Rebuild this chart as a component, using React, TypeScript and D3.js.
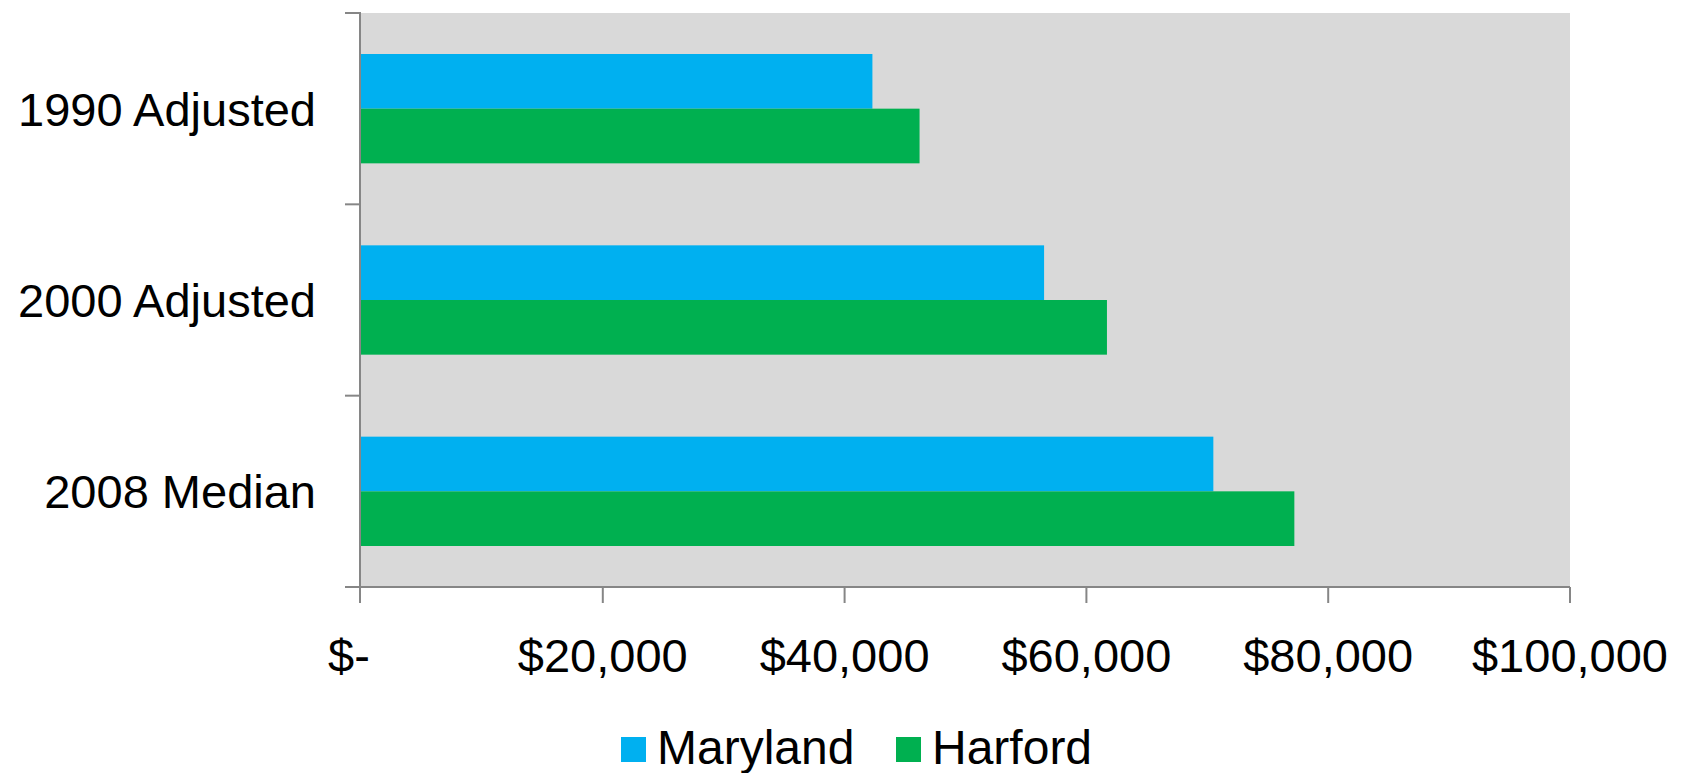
import React from "react";
import * as d3 from "d3";

const categories = ["1990 Adjusted", "2000 Adjusted", "2008 Median"];
const seriesNames = ["Maryland", "Harford"];
const marylandValues = [42300, 56500, 70500];
const harfordValues = [46200, 61700, 77200];
const xTicks = [0, 20000, 40000, 60000, 80000, 100000];
const colors = ["#00b0f0", "#00b050"];

const W = 1684;
const H = 773;
const FONT = "'Liberation Sans', Arial, sans-serif";

export default function App() {
  const left = 361;
  const right = 1570;
  const top = 13;
  const bottom = 587;

  const x = d3.scaleLinear().domain([0, 100000]).range([left, right]);
  const y = d3.scaleBand<string>().domain(categories).range([top, bottom]).paddingInner(0).paddingOuter(0);
  const inner = d3
    .scaleBand<string>()
    .domain(seriesNames)
    .range([0, y.bandwidth()])
    .paddingInner(0)
    .paddingOuter(0.75);

  const values = [marylandValues, harfordValues];
  const fmt = (v: number) => (v === 0 ? "$-" : "$" + d3.format(",")(v));
  const axisColor = "#868686";
  const boundaries = [...categories.map((c) => y(c) as number), bottom];

  return (
    <svg
      width={W}
      height={H}
      style={{ position: "absolute", left: 0, top: 0, background: "#fff" }}
      fontFamily={FONT}
    >
      <rect x={left} y={top} width={right - left} height={bottom - top} fill="#d9d9d9" />
      {categories.map((c, i) =>
        seriesNames.map((s, j) => (
          <rect
            key={c + s}
            x={x(0)}
            y={(y(c) as number) + (inner(s) as number)}
            width={x(values[j][i]) - x(0)}
            height={inner.bandwidth()}
            fill={colors[j]}
          />
        ))
      )}
      {/* y axis */}
      <line x1={left - 1} x2={left - 1} y1={top - 1} y2={bottom + 16} stroke={axisColor} strokeWidth={2} />
      {boundaries.map((b, i) => (
        <line key={"yt" + i} x1={left - 16} x2={left - 1} y1={b} y2={b} stroke={axisColor} strokeWidth={2} />
      ))}
      {/* x axis */}
      <line x1={left - 16} x2={right} y1={bottom} y2={bottom} stroke={axisColor} strokeWidth={2} />
      {xTicks.map((t) => (
        <line key={"xt" + t} x1={x(t) - (t === 0 ? 1 : 0)} x2={x(t) - (t === 0 ? 1 : 0)} y1={bottom} y2={bottom + 16} stroke={axisColor} strokeWidth={2} />
      ))}
      {xTicks.map((t) => (
        <text
          key={"xl" + t}
          x={x(t) + (t === 0 ? -12 : 0)}
          y={672}
          textAnchor="middle"
          fontSize={47}
          fill="#000"
        >
          {fmt(t)}
        </text>
      ))}
      {categories.map((c) => (
        <text
          key={"yl" + c}
          x={316}
          y={(y(c) as number) + y.bandwidth() / 2 + 17}
          textAnchor="end"
          fontSize={47}
          fill="#000"
        >
          {c}
        </text>
      ))}
      {/* legend */}
      {seriesNames.map((s, j) => {
        const lx = [621, 896][j];
        return (
          <g key={"lg" + s}>
            <rect x={lx} y={737} width={25} height={25} fill={colors[j]} />
            <text x={lx + 36} y={764} fontSize={48} fill="#000">
              {s}
            </text>
          </g>
        );
      })}
    </svg>
  );
}
